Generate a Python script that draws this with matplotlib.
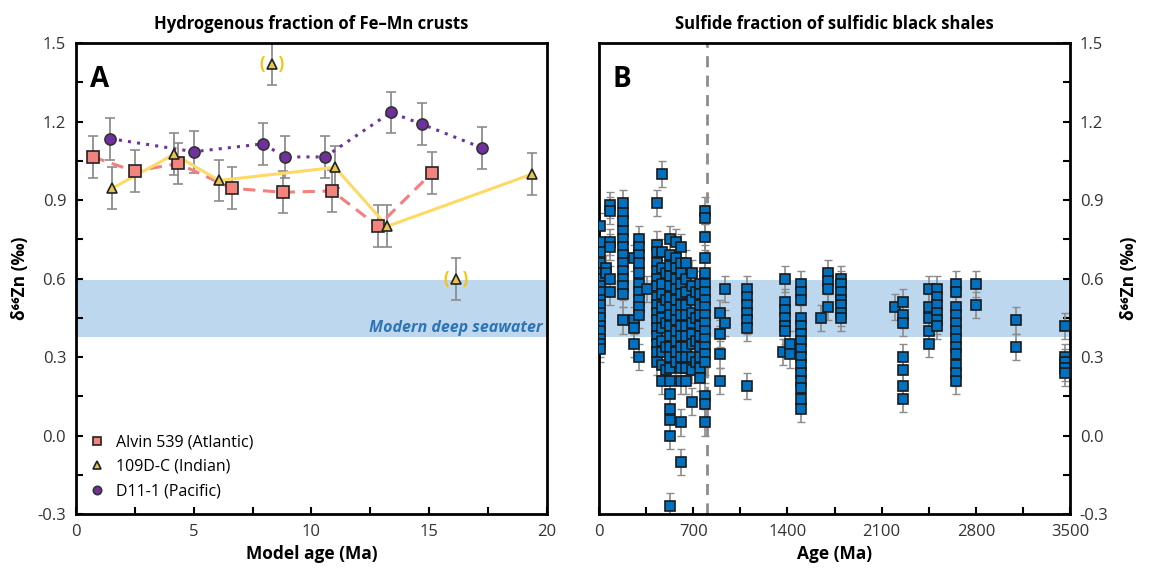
import matplotlib
matplotlib.use("Agg")
import matplotlib.pyplot as plt
from matplotlib.ticker import MultipleLocator
import numpy as np

plt.rcParams['font.family'] = ['Open Sans', 'DejaVu Sans']

# Panel A: Fe-Mn crusts
alvin_age = [0.72, 2.5, 4.33, 6.62, 8.79, 10.87, 12.82, 15.12]
alvin_zn = [1.065, 1.01, 1.04, 0.945, 0.93, 0.935, 0.80, 1.005]

indian_age = [1.54, 4.17, 6.07, 11.0, 13.22, 19.38]
indian_zn = [0.945, 1.075, 0.975, 1.025, 0.80, 1.00]
indian_out_age = [8.33, 16.14]
indian_out_zn = [1.42, 0.60]

pacific_age = [1.44, 5.01, 7.95, 8.87, 10.57, 13.36, 14.7, 17.23]
pacific_zn = [1.135, 1.085, 1.115, 1.065, 1.065, 1.235, 1.19, 1.10]

crust_err = 0.08

# Panel B: black shales, one column of samples per age
shale_cols = {
    10: [0.80, 0.74, 0.70, 0.66, 0.62, 0.60, 0.57, 0.55, 0.52, 0.50, 0.47, 0.45, 0.42, 0.40, 0.37, 0.35, 0.33],
    55: [0.64, 0.62],
    85: [0.88, 0.86, 0.74, 0.72, 0.60, 0.55],
    180: [0.89, 0.85, 0.82, 0.78, 0.75, 0.72, 0.69, 0.66, 0.63, 0.60, 0.57, 0.54, 0.44],
    260: [0.68, 0.44, 0.41, 0.35],
    300: [0.75, 0.72, 0.69, 0.66, 0.62, 0.58, 0.55, 0.52, 0.49, 0.46, 0.30],
    360: [0.56],
    430: [0.89, 0.73, 0.70, 0.66, 0.63, 0.60, 0.57, 0.53, 0.50, 0.47, 0.44, 0.41, 0.38, 0.35, 0.32, 0.28],
    470: [1.00, 0.70, 0.64, 0.58, 0.54, 0.49, 0.45, 0.41, 0.36, 0.32, 0.27, 0.21],
    500: [0.62, 0.52, 0.43, 0.34, 0.25],
    530: [0.75, 0.69, 0.65, 0.61, 0.57, 0.53, 0.49, 0.46, 0.42, 0.38, 0.34, 0.30, 0.26, 0.21, 0.16, 0.10, 0.06, 0.0, -0.27],
    570: [0.74, 0.68, 0.64, 0.60, 0.56, 0.52, 0.48, 0.44, 0.40, 0.36, 0.32, 0.28],
    610: [0.72, 0.66, 0.62, 0.58, 0.54, 0.50, 0.46, 0.42, 0.38, 0.34, 0.30, 0.26, 0.21, 0.05, -0.10],
    650: [0.66, 0.60, 0.55, 0.50, 0.46, 0.42, 0.38, 0.34, 0.30, 0.26, 0.21],
    690: [0.62, 0.57, 0.52, 0.47, 0.43, 0.39, 0.35, 0.30, 0.25, 0.13],
    720: [0.55, 0.45, 0.36, 0.28],
    750: [0.58, 0.54, 0.50, 0.46, 0.42, 0.38, 0.34, 0.30, 0.26, 0.22],
    785: [0.86, 0.83, 0.76, 0.68, 0.62, 0.58, 0.55, 0.52, 0.49, 0.46, 0.43, 0.40, 0.37, 0.34, 0.31, 0.28, 0.15, 0.12, 0.05],
    900: [0.47, 0.39, 0.31, 0.21],
    940: [0.56, 0.43],
    1100: [0.56, 0.53, 0.50, 0.47, 0.44, 0.41, 0.19],
    1370: [0.32],
    1385: [0.60, 0.51, 0.48, 0.45, 0.42, 0.40],
    1420: [0.35, 0.31],
    1500: [0.58, 0.55, 0.52, 0.45, 0.42, 0.39, 0.36, 0.33, 0.30, 0.27, 0.24, 0.21, 0.18, 0.14, 0.10],
    1650: [0.45],
    1700: [0.62, 0.59, 0.56, 0.49],
    1800: [0.60, 0.58, 0.55, 0.52, 0.50, 0.47, 0.45],
    2200: [0.49],
    2260: [0.51, 0.46, 0.43, 0.30, 0.25, 0.19, 0.14],
    2450: [0.56, 0.49, 0.45, 0.40, 0.35],
    2510: [0.56, 0.53, 0.50, 0.47, 0.44, 0.42],
    2650: [0.58, 0.55, 0.49, 0.46, 0.43, 0.40, 0.37, 0.34, 0.31, 0.27, 0.24, 0.21],
    2800: [0.58, 0.50],
    3100: [0.44, 0.34],
    3460: [0.42, 0.30, 0.28, 0.26, 0.24],
}
shale_err = 0.05
oxygenation_age = 800

seawater_band = (0.375, 0.593)

band_col = '#bdd7ee'
err_col = '#8c8c8c'

fig = plt.figure(figsize=(11.49, 5.75), dpi=100)
axA = fig.add_axes([0.0661, 0.106, 0.41, 0.819])
axB = fig.add_axes([0.5213, 0.106, 0.41, 0.819])

# ---- Panel A ----
axA.axhspan(*seawater_band, color=band_col, lw=0, zorder=0)
axA.text(19.8, 0.41, 'Modern deep seawater', color='#2e75b6', fontsize=11.5,
         fontweight='bold', fontstyle='italic', ha='right', va='center')

ek = dict(fmt='none', ecolor=err_col, elinewidth=1.3, capsize=3.5, capthick=1.2, zorder=2)
axA.errorbar(alvin_age, alvin_zn, yerr=crust_err, **ek)
axA.errorbar(indian_age, indian_zn, yerr=crust_err, **ek)
axA.errorbar(indian_out_age, indian_out_zn, yerr=crust_err, **ek)
axA.errorbar(pacific_age, pacific_zn, yerr=crust_err, **ek)

axA.plot(pacific_age, pacific_zn, ls=(0, (1, 2)), color='#7030a0', lw=2.2, zorder=3)
axA.plot(alvin_age, alvin_zn, ls=(0, (4, 2.5)), color='#f47f7f', lw=2.2, zorder=3)
axA.plot(indian_age, indian_zn, ls='-', color='#ffd966', lw=2.2, zorder=3)

axA.plot(alvin_age, alvin_zn, 's', ms=8.5, mfc='#f4837d', mec='#222222', mew=1.2, zorder=4,
         label='Alvin 539 (Atlantic)')
axA.plot(indian_age, indian_zn, '^', ms=7.5, mfc='#e8c44a', mec='#222222', mew=1.2, zorder=5,
         label='109D-C (Indian)')
axA.plot(indian_out_age, indian_out_zn, '^', ms=7.5, mfc='#e8c44a', mec='#222222', mew=1.2, zorder=5)
axA.plot(pacific_age, pacific_zn, 'o', ms=8, mfc='#7030a0', mec='#333333', mew=1.2, zorder=4,
         label='D11-1 (Pacific)')
for xo, yo in zip(indian_out_age, indian_out_zn):
    axA.text(xo, yo, '(   )', color='#ffc000', fontsize=12, fontweight='bold',
             ha='center', va='center', zorder=6)

axA.text(0.6, 1.36, 'A', fontsize=20, fontweight='bold', ha='left', va='center')

axA.set_xlim(0, 20)
axA.set_ylim(-0.3, 1.5)
axA.xaxis.set_major_locator(MultipleLocator(5))
axA.xaxis.set_minor_locator(MultipleLocator(2.5))
axA.yaxis.set_major_locator(MultipleLocator(0.3))
axA.yaxis.set_minor_locator(MultipleLocator(0.15))
axA.yaxis.set_major_formatter(matplotlib.ticker.FormatStrFormatter('%.1f'))
axA.set_title('Hydrogenous fraction of Fe–Mn crusts', fontsize=12, fontweight='bold', pad=10)
axA.set_xlabel('Model age (Ma)', fontsize=12.5, fontweight='bold')
axA.set_ylabel('δ⁶⁶Zn (‰)', fontsize=12.5, fontweight='bold', labelpad=6)
leg = axA.legend(loc='lower left', frameon=False, fontsize=11.5, handlelength=0.8,
                 handletextpad=0.8, labelspacing=0.55, borderaxespad=0.5, markerscale=0.75)

# ---- Panel B ----
shale_age = []
shale_zn = []
for a, vals in shale_cols.items():
    shale_age += [a] * len(vals)
    shale_zn += vals

axB.axhspan(*seawater_band, color=band_col, lw=0, zorder=0)
axB.axvline(oxygenation_age, color='#8c8c8c', ls=(0, (4, 3)), lw=2, zorder=1)
axB.errorbar(shale_age, shale_zn, yerr=shale_err, fmt='none', ecolor=err_col,
             elinewidth=1.2, capsize=3, capthick=1, zorder=2)
axB.plot(shale_age, shale_zn, 's', ms=7.5, mfc='#0070c0', mec='#1a1a1a', mew=1.2, zorder=4)
axB.text(100, 1.36, 'B', fontsize=20, fontweight='bold', ha='left', va='center')

axB.set_xlim(0, 3500)
axB.set_ylim(-0.3, 1.5)
axB.xaxis.set_major_locator(MultipleLocator(700))
axB.xaxis.set_minor_locator(MultipleLocator(350))
axB.yaxis.set_major_locator(MultipleLocator(0.3))
axB.yaxis.set_minor_locator(MultipleLocator(0.15))
axB.yaxis.set_major_formatter(matplotlib.ticker.FormatStrFormatter('%.1f'))
axB.yaxis.tick_right()
axB.yaxis.set_label_position('right')
axB.set_title('Sulfide fraction of sulfidic black shales', fontsize=12, fontweight='bold', pad=10)
axB.set_xlabel('Age (Ma)', fontsize=12.5, fontweight='bold')
axB.set_ylabel('δ⁶⁶Zn (‰)', fontsize=12.5, fontweight='bold', labelpad=8)

for ax in (axA, axB):
    for s in ax.spines.values():
        s.set_linewidth(2)
        s.set_color('black')
    ax.tick_params(which='both', direction='in', width=1.5, labelsize=12, colors='black',
                   labelcolor='#333333', pad=7)
    ax.tick_params(which='major', length=5)
    ax.tick_params(which='minor', length=5)
    ax.tick_params(axis='y', which='both', left=(ax is axA), right=(ax is axB))
    ax.tick_params(axis='x', which='both', top=False)

fig.savefig('out.png', dpi=100)
